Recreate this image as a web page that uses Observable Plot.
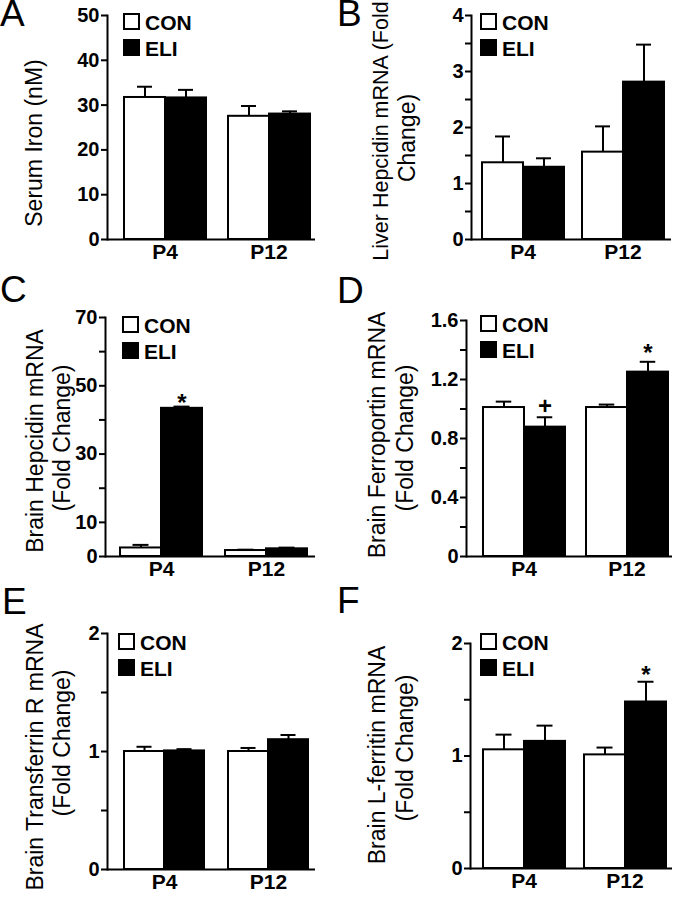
<!DOCTYPE html>
<html>
<head>
<meta charset="utf-8">
<script src="https://cdn.jsdelivr.net/npm/d3@7"></script>
<script src="https://cdn.jsdelivr.net/npm/@observablehq/plot@0.6"></script>
<style>
  html, body { margin: 0; padding: 0; background: #fff; }
  #fig { position: relative; width: 674px; height: 900px; overflow: hidden; background: #fff;
         font-family: "Liberation Sans", Arial, Helvetica, sans-serif; color: #000; }
  .panel { position: absolute; }
  .letter { position: absolute; font-size: 37px; line-height: 27px; font-weight: 400; }
  .ylab { position: absolute; white-space: nowrap; font-size: 23px; line-height: 26px;
          transform: translate(-50%, -50%) rotate(-90deg); }
  .lbox { position: absolute; width: 17px; height: 17px; box-sizing: border-box; border: 2px solid #000; }
  .ltxt { position: absolute; font-size: 21px; font-weight: 700; line-height: 17px; white-space: nowrap; }
  #fig svg g[aria-label="y-axis tick label"], #fig svg g[aria-label="y-axis tick label"] text { font-size: 20px; font-weight: 700; }
  #fig svg g[aria-label="fx-axis tick label"], #fig svg g[aria-label="fx-axis tick label"] text { font-size: 21px; font-weight: 700; }
</style>
</head>
<body>
<div id="fig"></div>
<script>
// ---------------- data ----------------
const groups = ["P4", "P12"];
const series = ["CON", "ELI"];
const panelLetters = ["A", "B", "C", "D", "E", "F"];
const yLabelLines = [
  ["Serum Iron (nM)"],
  ["Liver Hepcidin mRNA (Fold", "Change)"],
  ["Brain Hepcidin mRNA", "(Fold Change)"],
  ["Brain Ferroportin mRNA", "(Fold Change)"],
  ["Brain Transferrin R mRNA", "(Fold Change)"],
  ["Brain L-ferritin mRNA", "(Fold Change)"]
];
const yMax = [50, 4, 70, 1.6, 2, 2];
const conMean = [[31.7, 27.5], [1.37, 1.56], [2.5, 1.75], [1.01, 1.01], [1.0, 1.0], [1.055, 1.01]];
const conSem  = [[2.4, 2.3], [0.47, 0.46], [0.9, 0.25], [0.04, 0.02], [0.04, 0.03], [0.135, 0.065]];
const eliMean = [[31.6, 28.0], [1.29, 2.81], [43.4, 2.25], [0.877, 1.25], [1.005, 1.10], [1.13, 1.48]];
const eliSem  = [[1.8, 0.6], [0.16, 0.67], [0.5, 0.35], [0.067, 0.07], [0.015, 0.04], [0.14, 0.18]];
const tickValues = [
  [0, 10, 20, 30, 40, 50],
  [0, 0.5, 1, 1.5, 2, 2.5, 3, 3.5, 4],
  [0, 10, 20, 30, 40, 50, 60, 70],
  [0, 0.2, 0.4, 0.6, 0.8, 1.0, 1.2, 1.4, 1.6],
  [0, 0.5, 1, 1.5, 2],
  [0, 0.5, 1, 1.5, 2]
];
const tickLabels = [
  ["0", "10", "20", "30", "40", "50"],
  ["0", "", "1", "", "2", "", "3", "", "4"],
  ["0", "10", "", "30", "", "50", "", "70"],
  ["0", "", "0.4", "", "0.8", "", "1.2", "", "1.6"],
  ["0", "", "1", "", "2"],
  ["0", "", "1", "", "2"]
];
const markPanel  = [2, 3, 3, 5];
const markGroup  = ["P4", "P4", "P12", "P12"];
const markSeries = ["ELI", "ELI", "ELI", "ELI"];
const markText   = ["*", "+", "*", "*"];
const markY      = [44.8, 1.017, 1.378, 1.72];

// ---------------- layout (px) ----------------
const layout = [
  {left: 0,   top: 0,   ml: 106, mr: 22, mt: 15, mb: 61, pair: 84, start: 15.75},
  {left: 337, top: 0,   ml: 133, mr: 3,  mt: 15, mb: 61, pair: 84, start: 9.75},
  {left: 0,   top: 300, ml: 105, mr: 22, mt: 17, mb: 44, pair: 82, start: 15},
  {left: 337, top: 300, ml: 128, mr: 2,  mt: 20, mb: 44, pair: 83, start: 16.25},
  {left: 0,   top: 600, ml: 106, mr: 22, mt: 33, mb: 31, pair: 82, start: 16.25},
  {left: 337, top: 600, ml: 133, mr: 2,  mt: 43, mb: 32, pair: 82, start: 12.5}
];
const letterPos = [[0, 0], [337, 0], [0, 276], [337, 277], [2, 588], [337, 587]];
const legendPos = [[123, 13], [480, 13], [122, 316], [480, 315], [118, 633], [480, 633]];
const ylabPos = [
  [[34, 143]],
  [[381, 131], [407, 138]],
  [[35, 441], [62, 438]],
  [[377, 435], [405, 438]],
  [[35, 757], [62, 743]],
  [[377, 755], [405, 748]]
];
const ylabSize = [[23], [21.5, 23], [23, 23], [23, 23], [23, 23], [23, 23]];
const capWidth = 16;

const fig = document.getElementById("fig");
const FONT = '"Liberation Sans", Arial, Helvetica, sans-serif';

for (let i = 0; i < 6; i++) {
  const L = layout[i];
  const rows = [];
  groups.forEach((g, j) => {
    rows.push({group: g, series: "CON", mean: conMean[i][j], top: conMean[i][j] + conSem[i][j]});
    rows.push({group: g, series: "ELI", mean: eliMean[i][j], top: eliMean[i][j] + eliSem[i][j]});
  });
  const ann = [];
  markPanel.forEach((p, k) => {
    if (p === i) ann.push({group: markGroup[k], series: markSeries[k], label: markText[k], y: markY[k]});
  });

  const W = (337 - L.ml - L.mr) / 2;
  const step = L.pair / 2;
  const po = (W / step - 2) / 2;
  const align = (W - L.pair) > 0 ? L.start / (W - L.pair) : 0.5;
  const fxdx = L.start + L.pair / 2 - W / 2;
  const capInset = (step - capWidth) / 2;
  const ticks = tickValues[i];
  const labs = tickLabels[i];

  const chart = Plot.plot({
    width: 337,
    height: 300,
    marginLeft: L.ml, marginRight: L.mr, marginTop: L.mt, marginBottom: L.mb,
    style: {fontFamily: FONT, background: "transparent", color: "#000", overflow: "visible",
            fontSize: "19px", fontWeight: "bold"},
    fx: {domain: groups, padding: 0, label: null},
    x: {domain: series, paddingInner: 0, paddingOuter: po, align: align, axis: null},
    y: {domain: [0, yMax[i]]},
    marks: [
      Plot.barY(rows, {fx: "group", x: "series", y: "mean",
        fill: d => d.series === "CON" ? "#fff" : "#000", stroke: "#000", strokeWidth: 2}),
      Plot.ruleX(rows, {fx: "group", x: "series", y1: "mean", y2: "top", stroke: "#000", strokeWidth: 2}),
      Plot.tickY(rows, {fx: "group", x: "series", y: "top", stroke: "#000", strokeWidth: 2,
        insetLeft: capInset, insetRight: capInset}),
      Plot.text(ann, {fx: "group", x: "series", y: "y", text: "label", fontSize: 24, fontWeight: "bold", fill: "#000"}),
      Plot.ruleY([0], {stroke: "#000", strokeWidth: 2}),
      Plot.frame({anchor: "left", facetAnchor: "left", stroke: "#000", strokeWidth: 2}),
      Plot.axisY({ticks: ticks, tickFormat: d => labs[ticks.indexOf(d)], tickSize: 6, tickPadding: 2,
        strokeWidth: 2, fontSize: 20, fontWeight: "bold", label: null}),
      Plot.axisFx({anchor: "bottom", tickSize: 0, tickPadding: 5, fontSize: 21, fontWeight: "bold",
        label: null, dx: fxdx})
    ]
  });
  const wrap = document.createElement("div");
  wrap.className = "panel";
  wrap.style.left = L.left + "px";
  wrap.style.top = L.top + "px";
  wrap.appendChild(chart);
  fig.appendChild(wrap);

  // panel letter
  const lt = document.createElement("div");
  lt.className = "letter";
  lt.textContent = panelLetters[i];
  lt.style.left = letterPos[i][0] + "px";
  lt.style.top = letterPos[i][1] + "px";
  fig.appendChild(lt);

  // y label lines
  yLabelLines[i].forEach((t, k) => {
    const d = document.createElement("div");
    d.className = "ylab";
    d.textContent = t;
    d.style.fontSize = ylabSize[i][k] + "px";
    d.style.left = ylabPos[i][k][0] + "px";
    d.style.top = ylabPos[i][k][1] + "px";
    fig.appendChild(d);
  });

  // legend
  series.forEach((s, k) => {
    const bx = document.createElement("div");
    bx.className = "lbox";
    bx.style.left = legendPos[i][0] + "px";
    bx.style.top = (legendPos[i][1] + k * 26) + "px";
    bx.style.background = s === "CON" ? "#fff" : "#000";
    fig.appendChild(bx);
    const tx = document.createElement("div");
    tx.className = "ltxt";
    tx.textContent = s;
    tx.style.left = (legendPos[i][0] + 22) + "px";
    tx.style.top = (legendPos[i][1] + k * 26 + 1) + "px";
    fig.appendChild(tx);
  });
}
</script>
</body>
</html>
